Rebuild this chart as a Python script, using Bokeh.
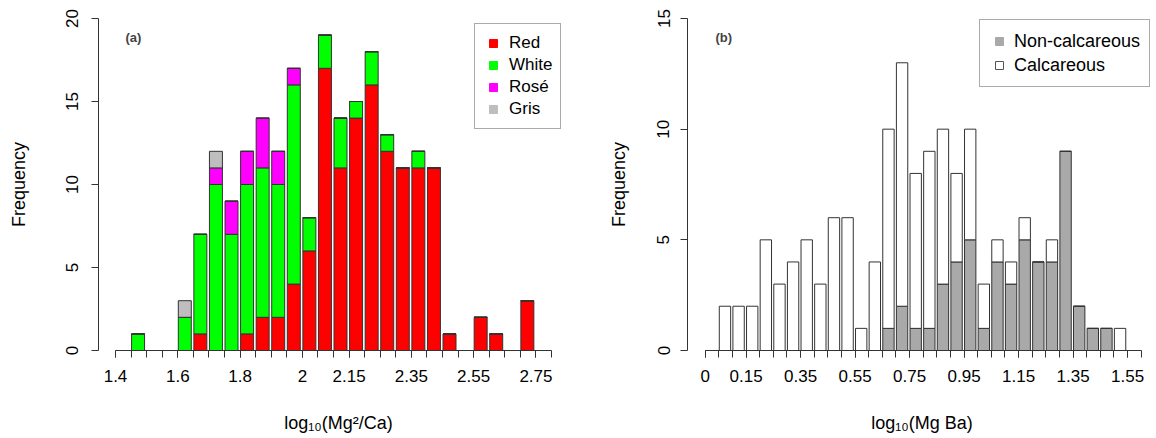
import numpy as np
from bokeh.plotting import figure
from bokeh.layouts import row
from bokeh.models import Range1d, FixedTicker, ColumnDataSource, Label
from bokeh.embed import file_html
from bokeh.resources import INLINE

# ---------------- Panel (a): log10(Mg^2/Ca) ----------------
a_edges = [1.40, 1.45, 1.50, 1.55, 1.60, 1.65, 1.70, 1.75, 1.80, 1.85,
           1.90, 1.95, 2.00, 2.05, 2.10, 2.15, 2.20, 2.25, 2.30, 2.35,
           2.40, 2.45, 2.50, 2.55, 2.60, 2.65, 2.70, 2.75]
a_red   = [0, 0, 0, 0, 0, 1, 0, 0, 1, 2, 2, 4, 6, 17, 11, 14, 16, 12, 11, 11, 11, 1, 0, 2, 1, 0, 3, 0]
a_white = [0, 1, 0, 0, 2, 6, 10, 7, 9, 9, 8, 12, 2, 2, 3, 1, 2, 1, 0, 1, 0, 0, 0, 0, 0, 0, 0, 0]
a_rose  = [0, 0, 0, 0, 0, 0, 1, 2, 2, 3, 2, 1, 0, 0, 0, 0, 0, 0, 0, 0, 0, 0, 0, 0, 0, 0, 0, 0]
a_gris  = [0, 0, 0, 0, 1, 0, 1, 0, 0, 0, 0, 0, 0, 0, 0, 0, 0, 0, 0, 0, 0, 0, 0, 0, 0, 0, 0, 0]
a_tick_all = [1.40, 1.45, 1.50, 1.55, 1.60, 1.65, 1.70, 1.75, 1.80, 1.85,
              1.90, 1.95, 2.00, 2.05, 2.10, 2.15, 2.20, 2.25, 2.30, 2.35,
              2.40, 2.45, 2.50, 2.55, 2.60, 2.65, 2.70, 2.75, 2.80]
a_tick_vals = [1.4, 1.6, 1.8, 2.0, 2.15, 2.35, 2.55, 2.75]
a_tick_text = ["1.4", "1.6", "1.8", "2", "2.15", "2.35", "2.55", "2.75"]
a_names = ["Red", "White", "Rosé", "Gris"]
a_colors = ["#FF0000", "#00FF00", "#FF00FF", "#BEBEBE"]

# ---------------- Panel (b): log10(Mg Ba) ----------------
b_edges = [0.00, 0.05, 0.10, 0.15, 0.20, 0.25, 0.30, 0.35, 0.40, 0.45,
           0.50, 0.55, 0.60, 0.65, 0.70, 0.75, 0.80, 0.85, 0.90, 0.95,
           1.00, 1.05, 1.10, 1.15, 1.20, 1.25, 1.30, 1.35, 1.40, 1.45,
           1.50, 1.55]
b_noncalc = [0, 0, 0, 0, 0, 0, 0, 0, 0, 0, 0, 0, 0, 1, 2, 1, 1, 3, 4, 5,
             1, 4, 3, 5, 4, 4, 9, 2, 1, 1, 0, 0]
b_calc    = [0, 2, 2, 2, 5, 3, 4, 5, 3, 6, 6, 1, 4, 9, 11, 7, 8, 7, 4, 5,
             2, 1, 1, 1, 0, 1, 0, 0, 0, 0, 1, 0]
b_tick_all = [0.00, 0.05, 0.10, 0.15, 0.20, 0.25, 0.30, 0.35, 0.40, 0.45,
              0.50, 0.55, 0.60, 0.65, 0.70, 0.75, 0.80, 0.85, 0.90, 0.95,
              1.00, 1.05, 1.10, 1.15, 1.20, 1.25, 1.30, 1.35, 1.40, 1.45,
              1.50, 1.55, 1.60]
b_tick_vals = [0.0, 0.15, 0.35, 0.55, 0.75, 0.95, 1.15, 1.35, 1.55]
b_tick_text = ["0", "0.15", "0.35", "0.55", "0.75", "0.95", "1.15", "1.35", "1.55"]
b_names = ["Non-calcareous", "Calcareous"]
b_colors = ["#A9A9A9", "#FFFFFF"]

BIN = 0.05
FONT = "Liberation Sans"
DARK = "#333333"


def style(p, xticks_major, xlabels, xminor, xbounds, yticks, ybounds, xlabel,
          ylab_standoff, ytick_standoff):
    p.outline_line_color = None
    p.grid.grid_line_color = None
    p.background_fill_color = "white"
    p.border_fill_color = "white"
    xa = p.xaxis[0]
    xa.ticker = FixedTicker(ticks=xticks_major, minor_ticks=xminor)
    xa.major_label_overrides = {v: t for v, t in zip(xticks_major, xlabels)}
    xa.bounds = xbounds
    xa.axis_label = xlabel
    xa.axis_label_standoff = 28
    xa.major_label_standoff = 12
    ya = p.yaxis[0]
    ya.ticker = FixedTicker(ticks=yticks)
    ya.bounds = ybounds
    ya.axis_label = "Frequency"
    ya.axis_label_standoff = ylab_standoff
    ya.major_label_standoff = ytick_standoff
    ya.major_label_orientation = "parallel"
    for ax in (xa, ya):
        ax.axis_line_color = DARK
        ax.major_tick_line_color = DARK
        ax.major_tick_out = 7
        ax.major_tick_in = 0
        ax.minor_tick_out = 7
        ax.minor_tick_in = 0
        ax.major_label_text_font = FONT
        ax.major_label_text_font_size = "17px"
        ax.major_label_text_color = "black"
        ax.axis_label_text_font = FONT
        ax.axis_label_text_font_size = "18px"
        ax.axis_label_text_font_style = "normal"
        ax.axis_label_text_color = "black"
    xa.minor_tick_line_color = DARK
    ya.minor_tick_line_color = None


def style_legend(p, loc, pad, lh, gw, standoff, fsize):
    lg = p.legend[0]
    lg.location = loc
    lg.padding = pad
    lg.spacing = 0
    lg.margin = 0
    lg.label_height = lh
    lg.glyph_height = lh
    lg.glyph_width = gw
    lg.label_standoff = standoff
    lg.label_text_font = FONT
    lg.label_text_font_size = fsize
    lg.label_text_color = "black"
    lg.border_line_color = "#555555"
    lg.border_line_width = 1
    lg.background_fill_alpha = 1.0


NAN = [np.nan]

# ---- figure (a)
src_a = ColumnDataSource(dict(x=np.array(a_edges) + 0.45 * BIN,
                              Red=a_red, White=a_white, Rose=a_rose, Gris=a_gris))
p1 = figure(width=578, height=438, x_range=Range1d(1.3454, 2.8867), y_range=Range1d(0, 20),
            min_border_left=98, min_border_right=0, min_border_top=18, min_border_bottom=88,
            output_backend="svg", toolbar_location=None)
p1.vbar_stack(["Red", "White", "Rose", "Gris"], x="x", width=0.834 * BIN, source=src_a,
              fill_color=a_colors, line_color=DARK, line_width=1)
for name, col in zip(a_names, a_colors):
    p1.scatter(x=NAN, y=NAN, marker="square", size=8, fill_color=col, line_color=col,
               legend_label=name)
style(p1, a_tick_vals, a_tick_text, a_tick_all, (1.4, 2.8), [0, 5, 10, 15, 20], (0, 20),
      "log\u2081\u2080(Mg\u00b2/Ca)", 34, 14)
style_legend(p1, (376, 221), 8, 22, 20, 6, "17px")
p1.add_layout(Label(x=27, y=313, x_units="screen", y_units="screen", text="(a)",
                    text_font=FONT, text_font_style="bold", text_font_size="13px",
                    text_baseline="middle"))

# ---- figure (b)
src_b = ColumnDataSource(dict(x=np.array(b_edges) + 0.45 * BIN,
                              Non=b_noncalc, Calc=b_calc))
p2 = figure(width=578, height=438, x_range=Range1d(-0.065, 1.6562), y_range=Range1d(0, 15),
            min_border_left=109, min_border_right=0, min_border_top=18, min_border_bottom=88,
            output_backend="svg", toolbar_location=None)
p2.vbar_stack(["Non", "Calc"], x="x", width=0.834 * BIN, source=src_b,
              fill_color=b_colors, line_color=DARK, line_width=1)
p2.scatter(x=NAN, y=NAN, marker="square", size=8, fill_color=b_colors[0], line_color=b_colors[0],
           legend_label=b_names[0])
p2.scatter(x=NAN, y=NAN, marker="square", size=8, fill_color=b_colors[1], line_color="#555555",
           legend_label=b_names[1])
style(p2, b_tick_vals, b_tick_text, b_tick_all, (0.0, 1.6), [0, 5, 10, 15], (0, 15),
      "log\u2081\u2080(Mg Ba)", 26, 11)
style_legend(p2, (292, 263), 9, 24, 20, 5, "18px")
p2.add_layout(Label(x=28, y=313, x_units="screen", y_units="screen", text="(b)",
                    text_font=FONT, text_font_style="bold", text_font_size="13px",
                    text_baseline="middle"))

layout = row(p1, p2)
open("out.html", "w").write(file_html(layout, INLINE))
